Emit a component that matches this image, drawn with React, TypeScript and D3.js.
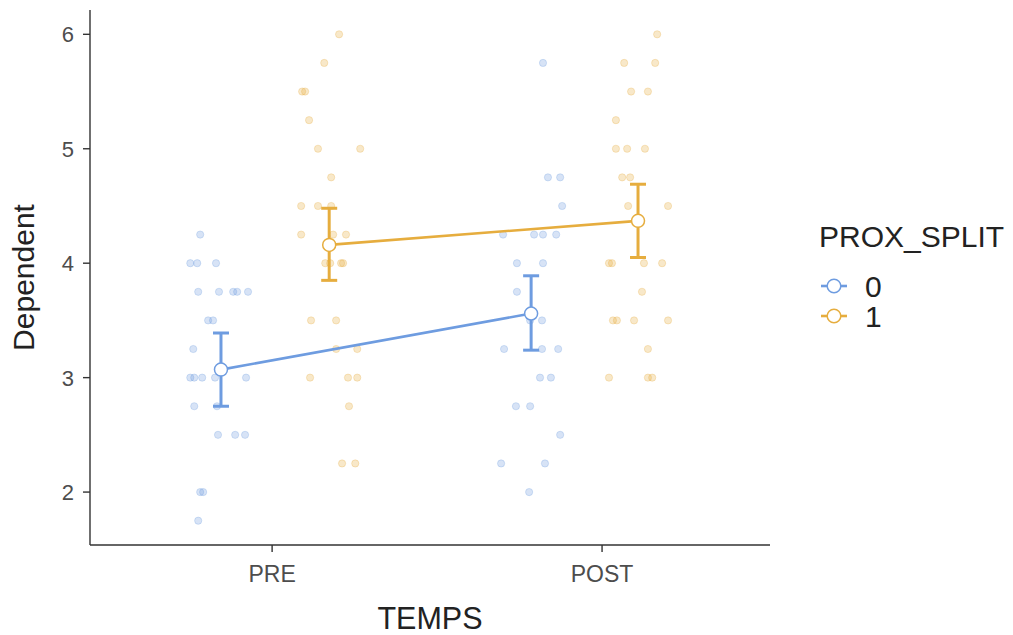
import React from "react";
import * as d3 from "d3";

const categories = ["PRE", "POST"];
const groups = ["0", "1"];
const colors = ["#6E9CE0", "#E6AD3E"];
const yTicks = [2, 3, 4, 5, 6];

// raw points: [jittered x position (category units, PRE=1, POST=2), value]
const pre0: [number, number][] = [
  [0.782, 4.25], [0.752, 4.0], [0.773, 4.0], [0.83, 4.0],
  [0.776, 3.75], [0.839, 3.75], [0.882, 3.75], [0.894, 3.75], [0.927, 3.75],
  [0.806, 3.5], [0.821, 3.5], [0.761, 3.25],
  [0.752, 3.0], [0.764, 3.0], [0.788, 3.0], [0.827, 3.0], [0.921, 3.0],
  [0.764, 2.75], [0.833, 2.75],
  [0.836, 2.5], [0.888, 2.5], [0.918, 2.5],
  [0.782, 2.0], [0.791, 2.0], [0.776, 1.75],
];
const pre1: [number, number][] = [
  [1.203, 6.0], [1.158, 5.75], [1.091, 5.5], [1.1, 5.5], [1.112, 5.25],
  [1.139, 5.0], [1.267, 5.0], [1.179, 4.75],
  [1.088, 4.5], [1.139, 4.5], [1.179, 4.5],
  [1.088, 4.25], [1.185, 4.25], [1.224, 4.25],
  [1.161, 4.0], [1.176, 4.0], [1.209, 4.0], [1.215, 4.0],
  [1.118, 3.5], [1.194, 3.5], [1.194, 3.25], [1.258, 3.25],
  [1.115, 3.0], [1.23, 3.0], [1.258, 3.0], [1.233, 2.75],
  [1.212, 2.25], [1.252, 2.25],
];
const post0: [number, number][] = [
  [1.821, 5.75], [1.836, 4.75], [1.873, 4.75], [1.879, 4.5],
  [1.7, 4.25], [1.794, 4.25], [1.821, 4.25], [1.861, 4.25],
  [1.742, 4.0], [1.821, 4.0], [1.742, 3.75],
  [1.782, 3.5], [1.818, 3.5],
  [1.703, 3.25], [1.818, 3.25], [1.867, 3.25],
  [1.812, 3.0], [1.845, 3.0], [1.739, 2.75], [1.782, 2.75],
  [1.873, 2.5], [1.694, 2.25], [1.827, 2.25], [1.779, 2.0],
];
const post1: [number, number][] = [
  [2.167, 6.0], [2.067, 5.75], [2.161, 5.75], [2.088, 5.5], [2.139, 5.5],
  [2.042, 5.25], [2.042, 5.0], [2.076, 5.0], [2.13, 5.0],
  [2.061, 4.75], [2.085, 4.75], [2.079, 4.5], [2.2, 4.5],
  [2.021, 4.0], [2.03, 4.0], [2.127, 4.0], [2.182, 4.0], [2.121, 3.75],
  [2.033, 3.5], [2.045, 3.5], [2.097, 3.5], [2.2, 3.5], [2.139, 3.25],
  [2.021, 3.0], [2.139, 3.0], [2.152, 3.0],
];
const rawPoints = [
  [...pre0, ...post0],
  [...pre1, ...post1],
];

// mean summaries per group: x position (category units), mean, lower, upper
const meanX = [
  [0.845, 1.785],
  [1.173, 2.109],
];
const means = [
  [3.07, 3.56],
  [4.16, 4.37],
];
const lowers = [
  [2.75, 3.24],
  [3.85, 4.05],
];
const uppers = [
  [3.39, 3.89],
  [4.48, 4.69],
];

const W = 1013;
const H = 635;
const panel = { left: 90, right: 770, top: 10, bottom: 545 };
const font = "'Liberation Sans', Arial, Helvetica, sans-serif";

export default function App() {
  const x = d3.scaleLinear().domain([0.445, 2.509]).range([89, 770]);
  const y = d3
    .scaleLinear()
    .domain([1.5375, 6.2125])
    .range([panel.bottom, panel.top]);

  return (
    <svg
      width={W}
      height={H}
      style={{ position: "absolute", left: 0, top: 0, background: "#fff" }}
      fontFamily={font}
    >
      {/* raw points */}
      {rawPoints.map((pts, g) => (
        <g key={"p" + g}>
          {pts.map((p, i) => (
            <circle
              key={i}
              cx={x(p[0])}
              cy={y(p[1])}
              r={3.6}
              fill={colors[g]}
              fillOpacity={0.28}
              stroke={colors[g]}
              strokeOpacity={0.35}
              strokeWidth={0.8}
            />
          ))}
        </g>
      ))}
      {/* lines */}
      {groups.map((gname, g) => {
        const path = d3
          .line<number>()
          .x((_, i) => x(meanX[g][i]))
          .y((d) => y(d))(means[g]);
        return (
          <path
            key={"l" + gname}
            d={path || ""}
            fill="none"
            stroke={colors[g]}
            strokeWidth={2.6}
          />
        );
      })}
      {/* error bars */}
      {groups.map((gname, g) => (
        <g key={"e" + gname} stroke={colors[g]} strokeWidth={3}>
          {categories.map((c, i) => {
            const cx = x(meanX[g][i]);
            return (
              <g key={c}>
                <line x1={cx} x2={cx} y1={y(lowers[g][i])} y2={y(uppers[g][i])} />
                <line x1={cx - 8} x2={cx + 8} y1={y(lowers[g][i])} y2={y(lowers[g][i])} />
                <line x1={cx - 8} x2={cx + 8} y1={y(uppers[g][i])} y2={y(uppers[g][i])} />
              </g>
            );
          })}
        </g>
      ))}
      {/* mean points */}
      {groups.map((gname, g) => (
        <g key={"m" + gname}>
          {categories.map((c, i) => (
            <circle
              key={c}
              cx={x(meanX[g][i])}
              cy={y(means[g][i])}
              r={6.5}
              fill="#fff"
              stroke={colors[g]}
              strokeWidth={1.5}
            />
          ))}
        </g>
      ))}
      {/* axes */}
      <line x1={panel.left} x2={panel.left} y1={panel.top} y2={panel.bottom} stroke="#333" strokeWidth={1.4} />
      <line x1={panel.left} x2={panel.right} y1={panel.bottom} y2={panel.bottom} stroke="#333" strokeWidth={1.4} />
      {yTicks.map((t) => (
        <g key={t}>
          <line x1={panel.left - 7} x2={panel.left} y1={y(t)} y2={y(t)} stroke="#333" strokeWidth={1.4} />
          <text x={74} y={y(t) + 8} textAnchor="end" fontSize={22} fill="#4d4d4d">
            {t}
          </text>
        </g>
      ))}
      {categories.map((c, i) => (
        <g key={c}>
          <line x1={x(i + 1)} x2={x(i + 1)} y1={panel.bottom} y2={panel.bottom + 7} stroke="#333" strokeWidth={1.4} />
          <text x={x(i + 1)} y={582} textAnchor="middle" fontSize={23} fill="#4d4d4d">
            {c}
          </text>
        </g>
      ))}
      <text x={430} y={629} textAnchor="middle" fontSize={30.5} fill="#222">
        TEMPS
      </text>
      <text
        transform={`translate(34, ${(panel.top + panel.bottom) / 2}) rotate(-90)`}
        textAnchor="middle"
        fontSize={30}
        fill="#222"
      >
        Dependent
      </text>
      {/* legend */}
      <text x={819} y={247} fontSize={30} fill="#222">
        PROX_SPLIT
      </text>
      {groups.map((gname, g) => {
        const ly = 286 + g * 30;
        return (
          <g key={"lg" + gname}>
            <line x1={821} x2={847} y1={ly} y2={ly} stroke={colors[g]} strokeWidth={2.6} />
            <circle cx={834} cy={ly} r={6.8} fill="#fff" stroke={colors[g]} strokeWidth={1.5} />
            <text x={865} y={ly + 11} fontSize={30} fill="#222">
              {gname}
            </text>
          </g>
        );
      })}
    </svg>
  );
}
